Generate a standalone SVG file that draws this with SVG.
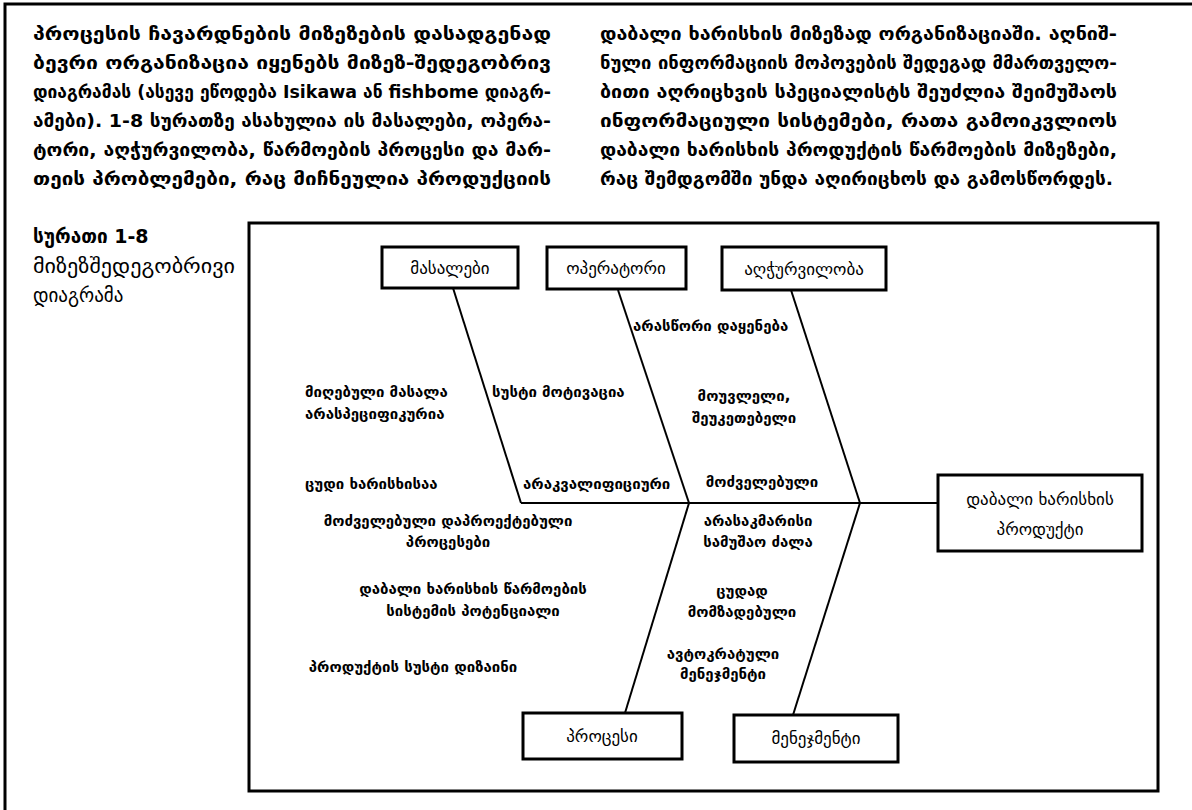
<svg xmlns="http://www.w3.org/2000/svg" width="1192" height="810" viewBox="0 0 1192 810">
<style>
text{font-family:"DejaVu Sans","Noto Sans",sans-serif;fill:#000}
.p{font-size:18px;font-weight:bold}
.cap{font-size:19px}
.capb{font-size:19px;font-weight:bold}
.box{fill:#fff;stroke:#000;stroke-width:3}
.bl{font-size:17px;text-anchor:middle}
.lb{font-size:15px;font-weight:bold}
.lbc{font-size:15px;font-weight:bold;text-anchor:middle}
.bone{stroke:#000;stroke-width:2;fill:none}
</style>
<rect width="1192" height="810" fill="#fff"/>
<path d="M5,810 V4 H1192" fill="none" stroke="#000" stroke-width="3"/>
<g id="paragraph-left">
<text class="p" x="33" y="40" textLength="518" lengthAdjust="spacingAndGlyphs">პროცესის ჩავარდნების მიზეზების დასადგენად</text>
<text class="p" x="33" y="69" textLength="518" lengthAdjust="spacingAndGlyphs">ბევრი ორგანიზაცია იყენებს მიზეზ-შედეგობრივ</text>
<text class="p" x="33" y="98" textLength="518" lengthAdjust="spacingAndGlyphs">დიაგრამას (ასევე ეწოდება Isikawa ან fishbome დიაგრ-</text>
<text class="p" x="33" y="127" textLength="518" lengthAdjust="spacingAndGlyphs">ამები). 1-8 სურათზე ასახულია ის მასალები, ოპერა-</text>
<text class="p" x="33" y="156" textLength="518" lengthAdjust="spacingAndGlyphs">ტორი, აღჭურვილობა, წარმოების პროცესი და მარ-</text>
<text class="p" x="33" y="185" textLength="518" lengthAdjust="spacingAndGlyphs">თეის პრობლემები, რაც მიჩნეულია პროდუქციის</text>
</g>
<g id="paragraph-right">
<text class="p" x="600" y="40" textLength="517" lengthAdjust="spacingAndGlyphs">დაბალი ხარისხის მიზეზად ორგანიზაციაში. აღნიშ-</text>
<text class="p" x="600" y="69" textLength="517" lengthAdjust="spacingAndGlyphs">ნული ინფორმაციის მოპოვების შედეგად მმართველო-</text>
<text class="p" x="600" y="98" textLength="517" lengthAdjust="spacingAndGlyphs">ბითი აღრიცხვის სპეციალისტს შეუძლია შეიმუშაოს</text>
<text class="p" x="600" y="127" textLength="517" lengthAdjust="spacingAndGlyphs">ინფორმაციული სისტემები, რათა გამოიკვლიოს</text>
<text class="p" x="600" y="156" textLength="517" lengthAdjust="spacingAndGlyphs">დაბალი ხარისხის პროდუქტის წარმოების მიზეზები,</text>
<text class="p" x="600" y="185" textLength="513" lengthAdjust="spacingAndGlyphs">რაც შემდგომში უნდა აღირიცხოს და გამოსწორდეს.</text>
</g>
<g id="caption">
<text class="capb" x="33" y="243">სურათი 1-8</text>
<text class="cap" x="33" y="273" textLength="202" lengthAdjust="spacingAndGlyphs">მიზეზშედეგობრივი</text>
<text class="cap" x="33" y="302">დიაგრამა</text>
</g>
<rect id="frame" x="249" y="223" width="909" height="568" fill="none" stroke="#000" stroke-width="3"/>
<g id="connectors">
<line class="bone" x1="453" y1="288" x2="521" y2="503"/>
<line class="bone" x1="618" y1="290" x2="689" y2="503"/>
<line class="bone" x1="791" y1="290" x2="860" y2="503"/>
<line class="bone" x1="521" y1="503" x2="938" y2="503" stroke-width="2.5"/>
<line class="bone" x1="689" y1="503" x2="625" y2="713"/>
<line class="bone" x1="860" y1="503" x2="793" y2="715"/>
</g>
<g id="node-masalebi"><rect class="box" x="382" y="247" width="136" height="41"/><text class="bl" x="450" y="274">მასალები</text></g>
<g id="node-operatori"><rect class="box" x="547" y="247" width="139" height="42"/><text class="bl" x="616" y="274">ოპერატორი</text></g>
<g id="node-agchurviloba"><rect class="box" x="722" y="247" width="164" height="43"/><text class="bl" x="804" y="275">აღჭურვილობა</text></g>
<g id="node-procesi"><rect class="box" x="523" y="713" width="159" height="46"/><text class="bl" x="602" y="742">პროცესი</text></g>
<g id="node-menejmenti"><rect class="box" x="734" y="715" width="164" height="47"/><text class="bl" x="816" y="744">მენეჯმენტი</text></g>
<g id="node-product"><rect class="box" x="938" y="475" width="204" height="76"/><text class="bl" x="1040" y="505" font-size="19">დაბალი ხარისხის</text><text class="bl" x="1040" y="535" font-size="19">პროდუქტი</text></g>
<g id="labels">
<text class="lb" x="633" y="331">არასწორი დაყენება</text>
<text class="lb" x="305" y="397">მიღებული მასალა</text>
<text class="lb" x="305" y="419">არასპეციფიკურია</text>
<text class="lb" x="492" y="397">სუსტი მოტივაცია</text>
<text class="lbc" x="744" y="401">მოუვლელი,</text>
<text class="lbc" x="744" y="423">შეუკეთებელი</text>
<text class="lb" x="305" y="489">ცუდი ხარისხისაა</text>
<text class="lb" x="523" y="489">არაკვალიფიციური</text>
<text class="lbc" x="762" y="487">მოძველებული</text>
<text class="lbc" x="448" y="526">მოძველებული დაპროექტებული</text>
<text class="lbc" x="448" y="547">პროცესები</text>
<text class="lbc" x="758" y="526">არასაკმარისი</text>
<text class="lbc" x="758" y="547">სამუშაო ძალა</text>
<text class="lbc" x="473" y="594">დაბალი ხარისხის წარმოების</text>
<text class="lbc" x="473" y="616">სისტემის პოტენციალი</text>
<text class="lbc" x="742" y="596">ცუდად</text>
<text class="lbc" x="742" y="617">მომზადებული</text>
<text class="lbc" x="413" y="672">პროდუქტის სუსტი დიზაინი</text>
<text class="lbc" x="723" y="659">ავტოკრატული</text>
<text class="lbc" x="723" y="679">მენეჯმენტი</text>
</g>
</svg>
